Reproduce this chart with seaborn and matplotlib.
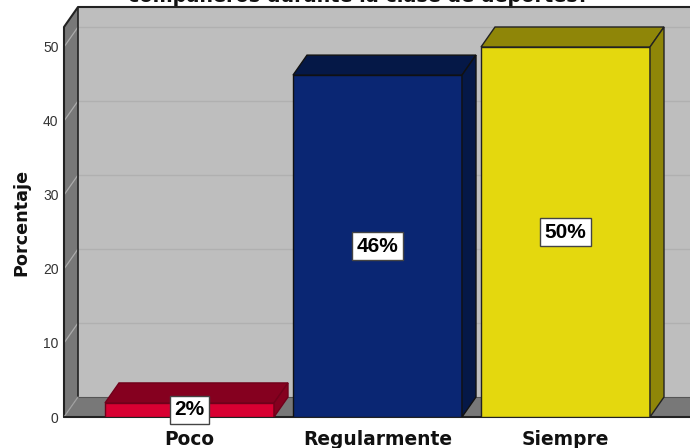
import matplotlib
matplotlib.use('Agg')
import matplotlib.pyplot as plt
import pandas as pd
import seaborn as sns
from matplotlib.patches import Polygon

categorias = ['Poco', 'Regularmente', 'Siempre']
porcentajes = [1.9, 46.2, 50.0]
etiquetas = ['2%', '46%', '50%']
marcas_y = [0, 10, 20, 30, 40, 50]
colores = ['#D80032', '#0A2673', '#E4D80E']
colores_oscuros = ['#85001F', '#051847', '#8F8608']
bordes = ['#70001A', '#111111', '#222222']
titulo = 'compañeros durante la clase de deportes?'

W, H = 690, 448
PX_X = 188.0   # pixeles por categoria
PX_Y = 7.4     # pixeles por unidad
DX = 14 / PX_X  # profundidad 3d
DY = 20 / PX_Y
ANCHO = 169 / PX_X

sns.set_theme(style='white')
plt.rcParams['font.family'] = ['Liberation Sans', 'DejaVu Sans']

fig = plt.figure(figsize=(W / 100, H / 100), dpi=100, facecolor='white')
ax = fig.add_axes([64 / W, (H - 417) / H, (W - 64) / W, 410 / H])

df = pd.DataFrame({'categoria': categorias, 'porcentaje': porcentajes})
sns.barplot(data=df, x='categoria', y='porcentaje', hue='categoria', palette=colores,
            width=ANCHO, legend=False, linewidth=1, saturation=1, ax=ax, zorder=4)
for barra, borde in zip(ax.patches, bordes):
    barra.set_edgecolor(borde)

x0 = (64 - 189.5) / PX_X
x1 = (690 - 189.5) / PX_X
y1 = 410 / PX_Y
ax.set_xlim(x0, x1)
ax.set_ylim(0, y1)
techo = y1 - DY

# paredes
ax.add_patch(Polygon([(x0 + DX, DY), (x1 + 1, DY), (x1 + 1, y1), (x0 + DX, y1)], fc='#BEBEBE', ec='none', zorder=0))
ax.add_patch(Polygon([(x0, 0), (x0 + DX, DY), (x0 + DX, y1), (x0, techo)], fc='#787878', ec='none', zorder=1))
ax.add_patch(Polygon([(x0, 0), (x0 + DX, DY), (x1 + 1, DY), (x1 + 1, 0)], fc='#787878', ec='none', zorder=1))

for m in marcas_y[1:]:
    ax.plot([x0 + DX, x1], [m + DY, m + DY], color='#B0B0B0', lw=1, zorder=2)
    ax.plot([x0, x0 + DX], [m, m + DY], color='#ABABAB', lw=0.9, zorder=2)

# contorno
negro = dict(color='#222222', lw=1.5, zorder=3, clip_on=False)
ax.plot([x0, x0, x0 + DX, x1], [0, techo, y1, y1], **negro)
ax.plot([x0 + DX, x0 + DX], [y1, DY], color='#222222', lw=1.2, zorder=3)
ax.plot([x0 + DX, x1], [DY, DY], color='#555555', lw=0.8, zorder=3)
ax.plot([x0, x0 + DX], [0, DY], color='#A0A0A0', lw=0.9, zorder=3)
ax.plot([x0, x1], [0, 0], color='#222222', lw=1.5, zorder=3, clip_on=False)

# caras 3d de las barras
for i, v in enumerate(porcentajes):
    a = i - ANCHO / 2
    b = i + ANCHO / 2
    ax.add_patch(Polygon([(a, v), (a + DX, v + DY), (b + DX, v + DY), (b, v)],
                         fc=colores_oscuros[i], ec=bordes[i], lw=1, zorder=4))
    ax.add_patch(Polygon([(b, 0), (b + DX, DY), (b + DX, v + DY), (b, v)],
                         fc=colores_oscuros[i], ec=bordes[i], lw=1, zorder=4))
    ax.text(i, v / 2, etiquetas[i], ha='center', va='center', fontsize=15, fontweight='bold',
            family='Liberation Sans', color='black', zorder=6,
            bbox=dict(boxstyle='square,pad=0.2', fc='white', ec='#444444', lw=1))

for s in ax.spines.values():
    s.set_visible(False)

ax.set_xticks(range(len(categorias)))
ax.set_xticklabels(categorias, fontsize=13.4, fontweight='bold', family='DejaVu Sans', color='#111111')
ax.set_yticks(marcas_y)
ax.set_yticklabels(marcas_y, fontsize=10, color='#333333', family='Liberation Sans')
ax.tick_params(axis='x', length=0, pad=9)
ax.tick_params(axis='y', length=0, pad=4)
ax.set_xlabel('')
ax.set_ylabel('')

fig.text(21 / W, (H - 222) / H, 'Porcentaje', rotation=90, ha='center', va='center',
         fontsize=12.7, fontweight='bold', family='DejaVu Sans', color='#111111')
fig.text(358 / W, (H - 2) / H, titulo, ha='center', va='baseline', fontsize=13.8,
         fontweight='bold', family='DejaVu Sans', color='#111111')

fig.savefig('out.png', dpi=100)
